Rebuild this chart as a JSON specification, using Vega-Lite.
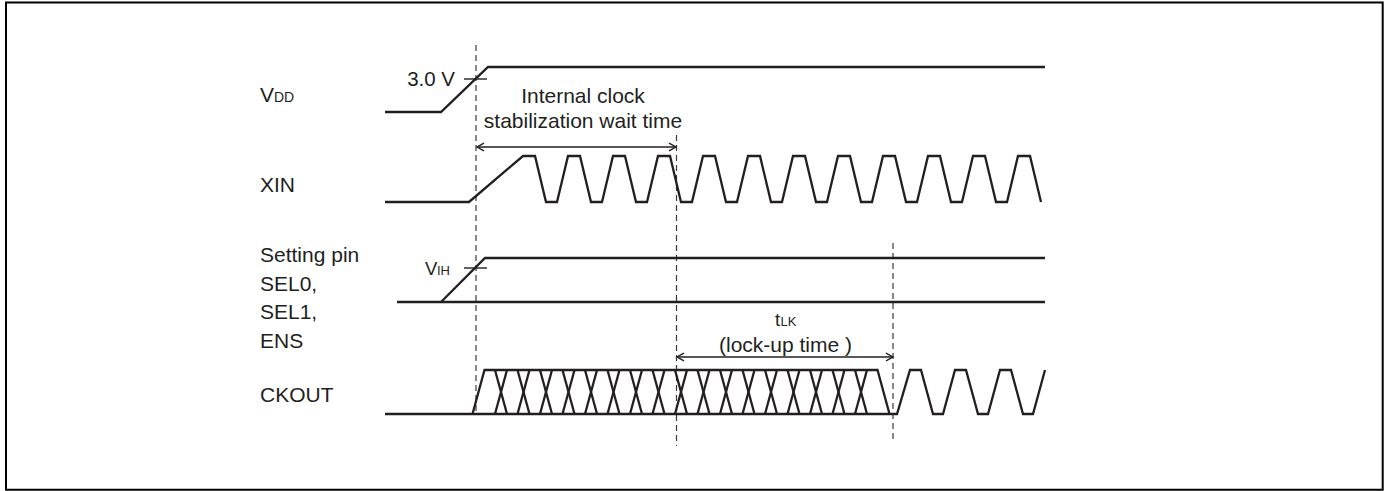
{
  "$schema": "https://vega.github.io/schema/vega-lite/v6.json",
  "width": 1387,
  "height": 491,
  "padding": 0,
  "autosize": {"type": "fit", "contains": "padding"},
  "background": "white",
  "config": {"view": {"stroke": null}},
  "encoding": {
    "x": {"field": "x", "type": "quantitative", "scale": {"domain": [0, 1387], "nice": false, "zero": false}, "axis": null},
    "y": {"field": "y", "type": "quantitative", "scale": {"domain": [0, 491], "reverse": true, "nice": false, "zero": false}, "axis": null}
  },
  "layer": [
    {
      "data": {"values": [{"x": 6, "x2": 1382.7, "y": 2.5, "y2": 489.7}]},
      "mark": {"type": "rect", "filled": false, "stroke": "#000000", "strokeWidth": 2},
      "encoding": {"x2": {"field": "x2"}, "y2": {"field": "y2"}}
    },
    {
      "data": {"values": [
        {"x": 476, "y": 45, "y2": 412},
        {"x": 676.5, "y": 135, "y2": 446},
        {"x": 893, "y": 243, "y2": 440}
      ]},
      "mark": {"type": "rule", "strokeDash": [6, 4], "strokeWidth": 1.2, "color": "#3a3a3a"},
      "encoding": {"y2": {"field": "y2"}}
    },
    {
      "data": {"values": [
        {"id": "vdd", "o": 0, "x": 385, "y": 112},
        {"id": "vdd", "o": 1, "x": 441, "y": 112},
        {"id": "vdd", "o": 2, "x": 488, "y": 67},
        {"id": "vdd", "o": 3, "x": 1045, "y": 67},

        {"id": "xin", "o": 0, "x": 385, "y": 202},
        {"id": "xin", "o": 1, "x": 469, "y": 202},
        {"id": "xin", "o": 2, "x": 523, "y": 156},
        {"id": "xin", "o": 3, "x": 535, "y": 156},
        {"id": "xin", "o": 4, "x": 546, "y": 202},
        {"id": "xin", "o": 5, "x": 557, "y": 202},
        {"id": "xin", "o": 6, "x": 568, "y": 156},
        {"id": "xin", "o": 7, "x": 580, "y": 156},
        {"id": "xin", "o": 8, "x": 591, "y": 202},
        {"id": "xin", "o": 9, "x": 602, "y": 202},
        {"id": "xin", "o": 10, "x": 613, "y": 156},
        {"id": "xin", "o": 11, "x": 625, "y": 156},
        {"id": "xin", "o": 12, "x": 636, "y": 202},
        {"id": "xin", "o": 13, "x": 647, "y": 202},
        {"id": "xin", "o": 14, "x": 658, "y": 156},
        {"id": "xin", "o": 15, "x": 670, "y": 156},
        {"id": "xin", "o": 16, "x": 681, "y": 202},
        {"id": "xin", "o": 17, "x": 692, "y": 202},
        {"id": "xin", "o": 18, "x": 703, "y": 156},
        {"id": "xin", "o": 19, "x": 715, "y": 156},
        {"id": "xin", "o": 20, "x": 726, "y": 202},
        {"id": "xin", "o": 21, "x": 737, "y": 202},
        {"id": "xin", "o": 22, "x": 748, "y": 156},
        {"id": "xin", "o": 23, "x": 760, "y": 156},
        {"id": "xin", "o": 24, "x": 771, "y": 202},
        {"id": "xin", "o": 25, "x": 782, "y": 202},
        {"id": "xin", "o": 26, "x": 793, "y": 156},
        {"id": "xin", "o": 27, "x": 805, "y": 156},
        {"id": "xin", "o": 28, "x": 816, "y": 202},
        {"id": "xin", "o": 29, "x": 827, "y": 202},
        {"id": "xin", "o": 30, "x": 838, "y": 156},
        {"id": "xin", "o": 31, "x": 850, "y": 156},
        {"id": "xin", "o": 32, "x": 861, "y": 202},
        {"id": "xin", "o": 33, "x": 872, "y": 202},
        {"id": "xin", "o": 34, "x": 883, "y": 156},
        {"id": "xin", "o": 35, "x": 895, "y": 156},
        {"id": "xin", "o": 36, "x": 906, "y": 202},
        {"id": "xin", "o": 37, "x": 917, "y": 202},
        {"id": "xin", "o": 38, "x": 928, "y": 156},
        {"id": "xin", "o": 39, "x": 940, "y": 156},
        {"id": "xin", "o": 40, "x": 951, "y": 202},
        {"id": "xin", "o": 41, "x": 962, "y": 202},
        {"id": "xin", "o": 42, "x": 973, "y": 156},
        {"id": "xin", "o": 43, "x": 985, "y": 156},
        {"id": "xin", "o": 44, "x": 996, "y": 202},
        {"id": "xin", "o": 45, "x": 1007, "y": 202},
        {"id": "xin", "o": 46, "x": 1018, "y": 156},
        {"id": "xin", "o": 47, "x": 1030, "y": 156},
        {"id": "xin", "o": 48, "x": 1041, "y": 202},

        {"id": "sellow", "o": 0, "x": 397, "y": 302},
        {"id": "sellow", "o": 1, "x": 1045, "y": 302},
        {"id": "selhigh", "o": 0, "x": 441, "y": 302},
        {"id": "selhigh", "o": 1, "x": 485, "y": 258},
        {"id": "selhigh", "o": 2, "x": 1045, "y": 258},

        {"id": "ckbox", "o": 0, "x": 472.5, "y": 414},
        {"id": "ckbox", "o": 1, "x": 484.5, "y": 370},
        {"id": "ckbox", "o": 2, "x": 877.5, "y": 370},
        {"id": "ckbox", "o": 3, "x": 889.5, "y": 414},

        {"id": "ckout", "o": 0, "x": 385, "y": 414},
        {"id": "ckout", "o": 1, "x": 897, "y": 414},
        {"id": "ckout", "o": 2, "x": 910, "y": 370},
        {"id": "ckout", "o": 3, "x": 921, "y": 370},
        {"id": "ckout", "o": 4, "x": 933, "y": 414},
        {"id": "ckout", "o": 5, "x": 943, "y": 414},
        {"id": "ckout", "o": 6, "x": 955, "y": 370},
        {"id": "ckout", "o": 7, "x": 966, "y": 370},
        {"id": "ckout", "o": 8, "x": 978, "y": 414},
        {"id": "ckout", "o": 9, "x": 988, "y": 414},
        {"id": "ckout", "o": 10, "x": 1000, "y": 370},
        {"id": "ckout", "o": 11, "x": 1011, "y": 370},
        {"id": "ckout", "o": 12, "x": 1023, "y": 414},
        {"id": "ckout", "o": 13, "x": 1033, "y": 414},
        {"id": "ckout", "o": 14, "x": 1045, "y": 370}
      ]},
      "mark": {"type": "line", "color": "#231f20", "strokeWidth": 2.3, "strokeJoin": "miter"},
      "encoding": {"detail": {"field": "id"}, "order": {"field": "o", "type": "quantitative"}}
    },
    {
      "data": {"values": [
        {"x": 495, "y": 370, "x2": 507, "y2": 414}, {"x": 495, "y": 414, "x2": 507, "y2": 370},
        {"x": 517.5, "y": 370, "x2": 529.5, "y2": 414}, {"x": 517.5, "y": 414, "x2": 529.5, "y2": 370},
        {"x": 540, "y": 370, "x2": 552, "y2": 414}, {"x": 540, "y": 414, "x2": 552, "y2": 370},
        {"x": 562.5, "y": 370, "x2": 574.5, "y2": 414}, {"x": 562.5, "y": 414, "x2": 574.5, "y2": 370},
        {"x": 585, "y": 370, "x2": 597, "y2": 414}, {"x": 585, "y": 414, "x2": 597, "y2": 370},
        {"x": 607.5, "y": 370, "x2": 619.5, "y2": 414}, {"x": 607.5, "y": 414, "x2": 619.5, "y2": 370},
        {"x": 630, "y": 370, "x2": 642, "y2": 414}, {"x": 630, "y": 414, "x2": 642, "y2": 370},
        {"x": 652.5, "y": 370, "x2": 664.5, "y2": 414}, {"x": 652.5, "y": 414, "x2": 664.5, "y2": 370},
        {"x": 675, "y": 370, "x2": 687, "y2": 414}, {"x": 675, "y": 414, "x2": 687, "y2": 370},
        {"x": 697.5, "y": 370, "x2": 709.5, "y2": 414}, {"x": 697.5, "y": 414, "x2": 709.5, "y2": 370},
        {"x": 720, "y": 370, "x2": 732, "y2": 414}, {"x": 720, "y": 414, "x2": 732, "y2": 370},
        {"x": 742.5, "y": 370, "x2": 754.5, "y2": 414}, {"x": 742.5, "y": 414, "x2": 754.5, "y2": 370},
        {"x": 765, "y": 370, "x2": 777, "y2": 414}, {"x": 765, "y": 414, "x2": 777, "y2": 370},
        {"x": 787.5, "y": 370, "x2": 799.5, "y2": 414}, {"x": 787.5, "y": 414, "x2": 799.5, "y2": 370},
        {"x": 810, "y": 370, "x2": 822, "y2": 414}, {"x": 810, "y": 414, "x2": 822, "y2": 370},
        {"x": 832.5, "y": 370, "x2": 844.5, "y2": 414}, {"x": 832.5, "y": 414, "x2": 844.5, "y2": 370},
        {"x": 855, "y": 370, "x2": 867, "y2": 414}, {"x": 855, "y": 414, "x2": 867, "y2": 370}
      ]},
      "mark": {"type": "rule", "color": "#231f20", "strokeWidth": 2.3},
      "encoding": {"x2": {"field": "x2"}, "y2": {"field": "y2"}}
    },
    {
      "data": {"values": [
        {"x": 478, "x2": 675, "y": 147},
        {"x": 678, "x2": 892, "y": 357},
        {"x": 464, "x2": 487, "y": 79},
        {"x": 464, "x2": 487, "y": 268}
      ]},
      "mark": {"type": "rule", "color": "#231f20", "strokeWidth": 1.4},
      "encoding": {"x2": {"field": "x2"}}
    },
    {
      "data": {"values": [{"x": 477, "y": 147}, {"x": 677, "y": 357}]},
      "mark": {"type": "point", "shape": "M2,-1.1L0,0L2,1.1", "filled": false, "stroke": "#231f20", "strokeWidth": 1.4, "size": 49, "opacity": 1}
    },
    {
      "data": {"values": [{"x": 676, "y": 147}, {"x": 893, "y": 357}]},
      "mark": {"type": "point", "shape": "M-2,-1.1L0,0L-2,1.1", "filled": false, "stroke": "#231f20", "strokeWidth": 1.4, "size": 49, "opacity": 1}
    },
    {
      "data": {"values": [
        {"label": "V", "x": 260, "y": 101.7},
        {"label": "XIN", "x": 260, "y": 191.7},
        {"label": "Setting pin", "x": 260, "y": 261.7},
        {"label": "SEL0,", "x": 260, "y": 290.7},
        {"label": "SEL1,", "x": 260, "y": 319},
        {"label": "ENS", "x": 260, "y": 348.3},
        {"label": "CKOUT", "x": 260, "y": 401.7}
      ]},
      "mark": {"type": "text", "align": "left", "baseline": "alphabetic", "font": "Liberation Sans", "fontSize": 21, "color": "#231f20"},
      "encoding": {"text": {"field": "label"}}
    },
    {
      "data": {"values": [
        {"label": "DD", "x": 274, "y": 101.7}
      ]},
      "mark": {"type": "text", "align": "left", "baseline": "alphabetic", "font": "Liberation Sans", "fontSize": 14, "color": "#231f20"},
      "encoding": {"text": {"field": "label"}}
    },
    {
      "data": {"values": [
        {"label": "V", "x": 425, "y": 275},
        {"label": "t", "x": 775, "y": 326}
      ]},
      "mark": {"type": "text", "align": "left", "baseline": "alphabetic", "font": "Liberation Sans", "fontSize": 18.5, "color": "#231f20"},
      "encoding": {"text": {"field": "label"}}
    },
    {
      "data": {"values": [
        {"label": "IH", "x": 437, "y": 275},
        {"label": "LK", "x": 780.5, "y": 326}
      ]},
      "mark": {"type": "text", "align": "left", "baseline": "alphabetic", "font": "Liberation Sans", "fontSize": 13, "color": "#231f20"},
      "encoding": {"text": {"field": "label"}}
    },
    {
      "data": {"values": [
        {"label": "Internal clock", "x": 583, "y": 103.3},
        {"label": "stabilization wait time", "x": 583, "y": 128.3},
        {"label": "(lock-up time )", "x": 785.5, "y": 352}
      ]},
      "mark": {"type": "text", "align": "center", "baseline": "alphabetic", "font": "Liberation Sans", "fontSize": 21, "color": "#231f20"},
      "encoding": {"text": {"field": "label"}}
    },
    {
      "data": {"values": [
        {"label": "3.0 V", "x": 455, "y": 86}
      ]},
      "mark": {"type": "text", "align": "right", "baseline": "alphabetic", "font": "Liberation Sans", "fontSize": 20.5, "color": "#231f20"},
      "encoding": {"text": {"field": "label"}}
    }
  ]
}
